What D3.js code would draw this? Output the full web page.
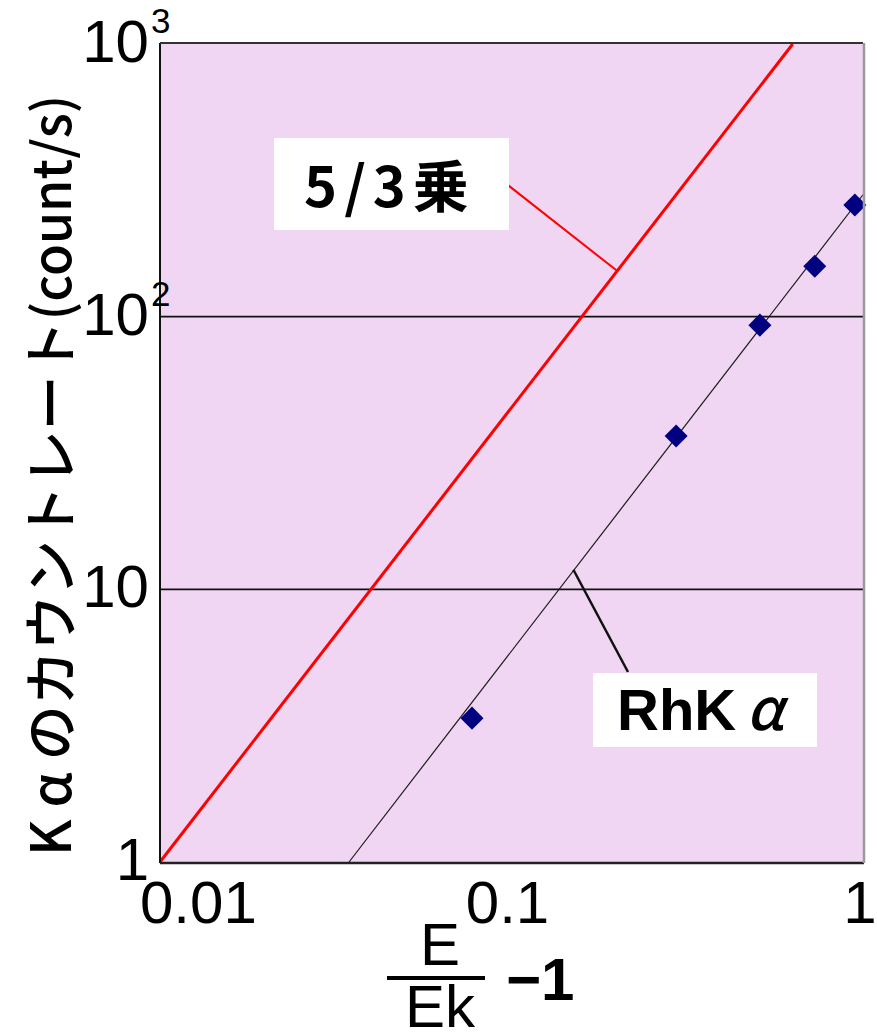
<!DOCTYPE html>
<html>
<head>
<meta charset="utf-8">
<script src="https://cdn.jsdelivr.net/npm/d3@7"></script>
<style>
  html, body { margin: 0; padding: 0; background: #fff; }
  svg { display: block; }
</style>
</head>
<body>
<script>
// Measured RhKα count rate versus overvoltage ratio (E/Ek − 1)
const rhX = [0.0772, 0.294, 0.509, 0.729, 0.948];
const rhY = [3.37, 36.5, 93.1, 153, 257];

// Straight lines on the log-log plot: fitted line through the data and the 5/3-power reference
const fitLineX = [0.0345, 1];
const fitLineY = [1, 280];
const refLineX = [0.01, 0.631];
const refLineY = [1, 1000];

// Points where the callouts touch their lines
const refCalloutAt = [0.2, 147];
const fitCalloutAt = [0.15, 11.8];

// Axes
const xDomain = [0.01, 1];
const yDomain = [1, 1000];
const xTicks = [0.01, 0.1, 1];
const xTickLabels = ["0.01", "0.1", "1"];
const yTicks = [1, 10, 100, 1000];
const yTickBase = ["1", "10", "10", "10"];
const yTickExp = ["", "", "2", "3"];
const gridValues = [10, 100];

const yTitleParts = ["K", "α", "のカウントレート", "(count/s)"];
const refLabel = "5/3乗";
const fitLabel = "RhKα";

const W = 877, H = 1032;
const plot = { left: 160, right: 863, top: 44, bottom: 862 };

const svg = d3.select("body").append("svg")
  .attr("width", W).attr("height", H);

const x = d3.scaleLog().domain(xDomain).range([plot.left, plot.right]);
const y = d3.scaleLog().domain(yDomain).range([plot.bottom, plot.top]);

// Plot background
svg.append("rect")
  .attr("x", plot.left).attr("y", plot.top)
  .attr("width", plot.right - plot.left).attr("height", plot.bottom - plot.top)
  .attr("fill", "#f0d6f2");

// Horizontal grid lines at 10 and 100
svg.append("g").selectAll("line").data(gridValues).join("line")
  .attr("x1", plot.left).attr("x2", plot.right)
  .attr("y1", d => y(d)).attr("y2", d => y(d))
  .attr("stroke", "#111").attr("stroke-width", 1.6);

const line = d3.line().x(d => x(d[0])).y(d => y(d[1]));

// 5/3-power reference line
svg.append("path")
  .datum(d3.zip(refLineX, refLineY))
  .attr("d", line)
  .attr("fill", "none").attr("stroke", "#ff0000").attr("stroke-width", 3);

// Fitted line through the RhKα data
svg.append("path")
  .datum(d3.zip(fitLineX, fitLineY))
  .attr("d", line)
  .attr("fill", "none").attr("stroke", "#1a1a1a").attr("stroke-width", 1.2);

// Data markers (diamonds)
const diamond = d3.symbol().type(d3.symbolSquare).size(265);
svg.append("g").selectAll("path").data(d3.zip(rhX, rhY)).join("path")
  .attr("d", diamond)
  .attr("transform", d => `translate(${x(d[0])},${y(d[1])}) rotate(45)`)
  .attr("fill", "#000080");

// Frame
svg.append("line").attr("x1", plot.left).attr("x2", plot.left)
  .attr("y1", plot.top - 1).attr("y2", plot.bottom + 1)
  .attr("stroke", "#111").attr("stroke-width", 2);
svg.append("line").attr("x1", plot.left).attr("x2", plot.right)
  .attr("y1", plot.top - 1).attr("y2", plot.top - 1)
  .attr("stroke", "#333").attr("stroke-width", 2);
svg.append("line").attr("x1", plot.left).attr("x2", plot.right + 1)
  .attr("y1", plot.bottom + 1).attr("y2", plot.bottom + 1)
  .attr("stroke", "#222").attr("stroke-width", 2.5);
svg.append("line").attr("x1", plot.right + 1).attr("x2", plot.right + 1)
  .attr("y1", plot.top - 1).attr("y2", plot.bottom + 1)
  .attr("stroke", "#9a9a9a").attr("stroke-width", 2.5);

// Callout for the 5/3-power line
svg.append("line")
  .attr("x1", 504).attr("y1", 182)
  .attr("x2", x(refCalloutAt[0])).attr("y2", y(refCalloutAt[1]))
  .attr("stroke", "#ff0000").attr("stroke-width", 2);
svg.append("rect")
  .attr("x", 274).attr("y", 138).attr("width", 235).attr("height", 92)
  .attr("fill", "#fff");
svg.append("text")
  .attr("x", 390).attr("y", 207)
  .attr("text-anchor", "middle")
  .attr("font-family", "'Noto Sans CJK JP', sans-serif")
  .attr("font-weight", 700)
  .attr("font-size", 56)
  .attr("letter-spacing", 7)
  .attr("fill", "#000")
  .text(refLabel);

// Callout for the RhKα fit
svg.append("line")
  .attr("x1", x(fitCalloutAt[0])).attr("y1", y(fitCalloutAt[1]))
  .attr("x2", 628).attr("y2", 672)
  .attr("stroke", "#111").attr("stroke-width", 2.5);
svg.append("rect")
  .attr("x", 593).attr("y", 673).attr("width", 224).attr("height", 74)
  .attr("fill", "#fff");
const fitText = svg.append("text")
  .attr("x", 617).attr("y", 730)
  .attr("font-size", 58)
  .attr("fill", "#000");
fitText.append("tspan")
  .attr("font-family", "'Liberation Sans', Arial, sans-serif")
  .attr("font-weight", 700)
  .text(fitLabel.slice(0, 3));
fitText.append("tspan")
  .attr("font-family", "'Noto Sans CJK JP', sans-serif")
  .attr("font-weight", 500)
  .attr("font-style", "italic")
  .attr("dx", 10)
  .text(fitLabel.slice(3));

// X tick labels
svg.append("g").selectAll("text").data(xTicks).join("text")
  .attr("x", (d, i) => i === 0 ? x(d) - 20 : i === 1 ? x(d) - 4 : x(d) - 3)
  .attr("y", 923)
  .attr("text-anchor", (d, i) => i === 0 ? "start" : "middle")
  .attr("font-family", "'Liberation Sans', Arial, sans-serif")
  .attr("font-size", 60)
  .attr("fill", "#000")
  .text((d, i) => xTickLabels[i]);

// Y tick labels (powers of ten)
const yt = svg.append("g");
yt.selectAll("text.base").data(yTicks).join("text")
  .attr("class", "base")
  .attr("x", 149)
  .attr("y", d => y(d) + 18)
  .attr("text-anchor", "end")
  .attr("font-family", "'Liberation Sans', Arial, sans-serif")
  .attr("font-size", 60)
  .attr("fill", "#000")
  .text((d, i) => yTickBase[i]);
yt.selectAll("text.exp").data(yTicks.filter((d, i) => yTickExp[i])).join("text")
  .attr("class", "exp")
  .attr("x", 151)
  .attr("y", d => y(d) - 11)
  .attr("font-family", "'Liberation Sans', Arial, sans-serif")
  .attr("font-size", 35)
  .attr("fill", "#000")
  .text(d => yTickExp[yTicks.indexOf(d)]);

// Y axis title
const ytitle = svg.append("text")
  .attr("transform", "translate(71,856) rotate(-90)")
  .attr("text-anchor", "start")
  .attr("font-family", "'Noto Sans CJK JP', sans-serif")
  .attr("font-weight", 500)
  .attr("font-size", 55)
  .attr("fill", "#000");
ytitle.append("tspan").text(yTitleParts[0]);
ytitle.append("tspan").attr("dx", 12).text(yTitleParts[1]);
ytitle.append("tspan").attr("dx", 12).text(yTitleParts[2]);
ytitle.append("tspan").attr("font-size", 52).text(yTitleParts[3]);

// X axis title: E / Ek − 1
const xt = svg.append("g")
  .attr("font-family", "'Liberation Sans', Arial, sans-serif")
  .attr("font-size", 60)
  .attr("fill", "#000");
xt.append("rect")
  .attr("x", 385).attr("y", 924).attr("width", 97).attr("height", 44)
  .attr("fill", "#fff");
xt.append("text").attr("x", 440).attr("y", 965)
  .attr("text-anchor", "middle").text("E");
xt.append("line")
  .attr("x1", 387).attr("x2", 485).attr("y1", 978).attr("y2", 978)
  .attr("stroke", "#000").attr("stroke-width", 4);
xt.append("text").attr("x", 440).attr("y", 1027)
  .attr("text-anchor", "middle").text("Ek");
xt.append("text").attr("x", 506).attr("y", 1000)
  .attr("font-weight", 700).text("−1");
</script>
</body>
</html>
